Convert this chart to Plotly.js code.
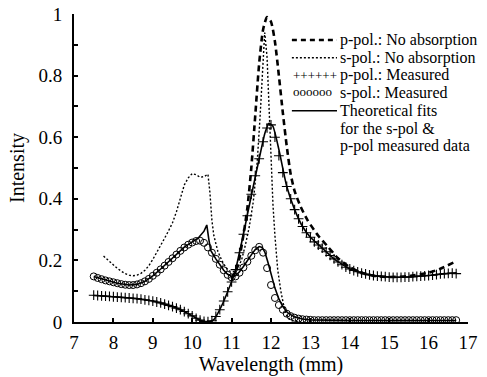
<!DOCTYPE html>
<html>
<head>
<meta charset="utf-8">
<script src="https://cdn.plot.ly/plotly-3.0.1.min.js"></script>
<style>html,body{margin:0;padding:0;background:#fff;}#chart{width:487px;height:377px;}</style>
</head>
<body>
<div id="chart"></div>
<script>
// Measured data grid (wavelength, mm)
const measX = [7.5,7.6,7.7,7.8,7.9,8.0,8.1,8.2,8.3,8.4,8.5,8.6,8.7,8.8,8.9,9.0,9.1,9.2,9.3,9.4,9.5,9.6,9.7,9.8,9.9,
  10.0,10.1,10.2,10.3,10.4,10.5,10.6,10.7,10.8,10.9,11.0,11.1,11.2,11.3,11.4,11.5,11.6,11.7,11.8,11.9,
  12.0,12.1,12.2,12.3,12.4,12.5,12.6,12.7,12.8,12.9,13.0,13.1,13.2,13.3,13.4,13.5,13.6,13.7,13.8,13.9,
  14.0,14.1,14.2,14.3,14.4,14.5,14.6,14.7,14.8,14.9,15.0,15.1,15.2,15.3,15.4,15.5,15.6,15.7,15.8,15.9,
  16.0,16.1,16.2,16.3,16.4,16.5,16.6,16.7];

// p-pol measured intensity
const pPolMeasured = [0.087,0.086,0.085,0.084,0.083,0.082,0.081,0.080,0.079,0.078,0.077,0.076,0.074,0.072,0.070,0.068,0.065,0.062,0.058,0.054,0.050,0.045,0.040,0.034,0.027,
  0.020,0.012,0.006,0.002,0.001,0.004,0.018,0.040,0.068,0.098,0.130,0.170,0.225,0.285,0.345,0.415,0.475,0.530,0.585,0.630,
  0.640,0.600,0.540,0.485,0.440,0.400,0.365,0.335,0.310,0.290,0.275,0.260,0.250,0.240,0.228,0.216,0.205,0.195,0.186,0.178,
  0.172,0.167,0.163,0.159,0.156,0.153,0.151,0.149,0.148,0.147,0.146,0.145,0.145,0.145,0.146,0.146,0.147,0.148,0.149,0.150,
  0.151,0.152,0.154,0.156,0.157,0.158,0.159,0.157];

// s-pol measured intensity
const sPolMeasured = [0.148,0.143,0.139,0.135,0.132,0.129,0.126,0.123,0.121,0.120,0.120,0.122,0.126,0.132,0.140,0.150,0.160,0.171,0.183,0.195,0.207,0.219,0.231,0.242,0.251,
  0.258,0.263,0.264,0.257,0.242,0.225,0.205,0.186,0.168,0.153,0.145,0.148,0.160,0.177,0.196,0.215,0.233,0.244,0.225,0.175,
  0.120,0.078,0.055,0.040,0.027,0.019,0.014,0.011,0.009,0.008,0.007,0.006,0.006,0.006,0.006,0.006,0.006,0.006,0.006,0.006,
  0.006,0.006,0.006,0.006,0.006,0.006,0.006,0.006,0.006,0.006,0.006,0.006,0.006,0.006,0.006,0.006,0.006,0.006,0.006,0.006,
  0.006,0.006,0.006,0.006,0.006,0.006,0.006,0.006];

// p-pol: no absorption (dashed)
const pNoAbsX = [11.0,11.15,11.31,11.4,11.5,11.6,11.7,11.8,11.9,12.0,12.1,12.2,12.3,12.4,12.5,12.6,12.75,12.93,13.2,13.44,13.7,14.0,14.3,14.6,15.0,15.5,16.0,16.3,16.7];
const pNoAbsY = [0.14,0.18,0.29,0.37,0.50,0.67,0.84,0.95,0.99,0.975,0.91,0.80,0.68,0.57,0.48,0.425,0.375,0.33,0.28,0.245,0.207,0.178,0.16,0.15,0.146,0.149,0.16,0.173,0.197];

// s-pol: no absorption (dotted)
const sNoAbsX = [7.75,7.9,8.0,8.1,8.2,8.3,8.4,8.5,8.6,8.7,8.8,8.9,9.0,9.1,9.2,9.3,9.4,9.5,9.6,9.7,9.8,9.9,10.0,10.1,10.2,10.3,10.4,10.45,10.5,10.55,10.65,10.75,10.85,10.95,11.05,11.15,11.25,11.35,11.45,11.55,11.65,11.72,11.78,11.84,11.9,11.95,12.0,12.05,12.1,12.17,12.25,12.32,12.4,12.5,12.7];
const sNoAbsY = [0.214,0.196,0.185,0.174,0.165,0.157,0.152,0.150,0.152,0.158,0.168,0.183,0.203,0.225,0.248,0.272,0.296,0.322,0.358,0.405,0.445,0.468,0.482,0.478,0.470,0.472,0.480,0.420,0.330,0.280,0.230,0.200,0.178,0.165,0.163,0.175,0.200,0.250,0.310,0.390,0.520,0.660,0.820,0.940,0.860,0.700,0.520,0.380,0.280,0.170,0.100,0.055,0.020,0.005,0.0];

// Theoretical fit, p-pol
const pFitX = [7.5,8.0,8.5,9.0,9.5,9.8,10.0,10.2,10.4,10.55,10.7,10.9,11.1,11.3,11.5,11.7,11.85,11.95,12.05,12.2,12.4,12.6,12.8,13.0,13.3,13.6,14.0,14.5,15.0,15.5,16.0,16.7];
const pFitY = [0.086,0.082,0.077,0.068,0.050,0.034,0.020,0.006,0.000,0.008,0.040,0.098,0.170,0.285,0.410,0.530,0.615,0.645,0.635,0.560,0.440,0.365,0.310,0.275,0.240,0.205,0.172,0.153,0.146,0.146,0.151,0.160];

// Theoretical fit, s-pol
const sFitX = [7.5,7.8,8.1,8.4,8.6,8.8,9.0,9.2,9.4,9.6,9.8,10.0,10.15,10.3,10.37,10.42,10.47,10.6,10.7,10.8,10.9,11.0,11.1,11.2,11.3,11.4,11.5,11.6,11.7,11.78,11.85,11.92,12.0,12.1,12.2,12.3,12.42,12.6,12.8,13.0,14.0,16.7];
const sFitY = [0.148,0.136,0.126,0.120,0.122,0.132,0.150,0.172,0.196,0.220,0.243,0.260,0.272,0.295,0.315,0.270,0.232,0.205,0.185,0.168,0.155,0.148,0.150,0.163,0.180,0.200,0.218,0.235,0.245,0.242,0.225,0.195,0.155,0.110,0.075,0.050,0.030,0.016,0.010,0.007,0.005,0.005];

// Legend labels
const legendLabels = ["p-pol.: No absorption","s-pol.: No absorption","p-pol.: Measured","s-pol.: Measured","Theoretical fits","for the s-pol &","p-pol measured data"];
const legendSymbols = ["++++++","oooooo"];

const FONT = "'Liberation Serif', 'Times New Roman', 'DejaVu Serif', serif";

const traces = [
  {x: pNoAbsX, y: pNoAbsY, type:'scatter', mode:'lines', line:{color:'#000', width:2.6, dash:'6px,4px', shape:'spline', smoothing:0.6}, name: legendLabels[0]},
  {x: sNoAbsX, y: sNoAbsY, type:'scatter', mode:'lines', line:{color:'#000', width:1.4, dash:'2px,2px'}, name: legendLabels[1]},
  {x: measX, y: pPolMeasured, type:'scatter', mode:'markers', marker:{symbol:'cross-thin-open', size:7, color:'#000', line:{color:'#000', width:1.1}}, name: legendLabels[2]},
  {x: measX, y: sPolMeasured, type:'scatter', mode:'markers', marker:{symbol:'circle-open', size:7, color:'#000', line:{color:'#000', width:1}}, name: legendLabels[3]},
  {x: pFitX, y: pFitY, type:'scatter', mode:'lines', line:{color:'#000', width:1.6, shape:'spline', smoothing:0.5}, name: legendLabels[4]},
  {x: sFitX, y: sFitY, type:'scatter', mode:'lines', line:{color:'#000', width:1.6}, name: legendLabels[4]}
];

// custom legend placement (paper coords; plot area 74..468 x, 14..322 y)
const symX0 = 0.553, symX1 = 0.6675, txtX = 0.6726;
const rowPx = [40, 57.7, 75.4, 93.1, 110.8, 128.5, 146.2];
const rowY = rowPx.map(p => (322 - p) / 308);

const annotations = legendLabels.map((t,i)=>({
  xref:'paper', yref:'paper', x: txtX, y: rowY[i], text: t, showarrow:false,
  xanchor:'left', yanchor:'middle', font:{family:FONT, size:16, color:'#000'}, borderpad:0
}));
annotations.push({xref:'paper', yref:'paper', x: symX0, y: rowY[2], text: legendSymbols[0], showarrow:false, xanchor:'left', yanchor:'middle', font:{family:FONT, size:13, color:'#000'}, borderpad:0});
annotations.push({xref:'paper', yref:'paper', x: symX0, y: rowY[3]+0.004, text: legendSymbols[1], showarrow:false, xanchor:'left', yanchor:'middle', font:{family:FONT, size:13, color:'#000'}, borderpad:0});

const shapes = [
  {type:'line', xref:'paper', yref:'paper', x0:symX0, x1:symX1, y0:rowY[0], y1:rowY[0], line:{color:'#000', width:2.6, dash:'5px,4px'}},
  {type:'line', xref:'paper', yref:'paper', x0:symX0, x1:symX1, y0:rowY[1], y1:rowY[1], line:{color:'#000', width:1.4, dash:'2px,2px'}},
  {type:'line', xref:'paper', yref:'paper', x0:symX0, x1:symX1, y0:rowY[4], y1:rowY[4], line:{color:'#000', width:1.5}}
];

const layout = {
  width:487, height:377,
  margin:{l:74, r:19, t:14, b:55, pad:0},
  paper_bgcolor:'#fff', plot_bgcolor:'#fff',
  showlegend:false,
  font:{family:FONT, color:'#000', size:19},
  xaxis:{
    range:[7,17], dtick:1, tick0:7, ticks:'inside', ticklen:4, tickwidth:2, tickcolor:'#000',
    showline:true, linewidth:2, linecolor:'#000', showgrid:false, zeroline:false,
    tickfont:{family:FONT, size:19, color:'#000'}, ticklabelstandoff:2,
    title:{text:'Wavelength (mm)', font:{family:FONT, size:20, color:'#000'}, standoff:4}
  },
  yaxis:{
    range:[0,1], dtick:0.2, tick0:0, ticks:'inside', ticklen:4, tickwidth:2, tickcolor:'#000',
    minor:{dtick:0.1, ticks:'inside', ticklen:4, tickwidth:2, tickcolor:'#000', showgrid:false},
    showline:true, linewidth:2, linecolor:'#000', showgrid:false, zeroline:false,
    tickfont:{family:FONT, size:19, color:'#000'}, ticklabelstandoff:6,
    title:{text:'Intensity', font:{family:FONT, size:20, color:'#000'}, standoff:8}
  },
  annotations: annotations,
  shapes: shapes
};

Plotly.newPlot('chart', traces, layout, {staticPlot:true, displayModeBar:false});
</script>
</body>
</html>
